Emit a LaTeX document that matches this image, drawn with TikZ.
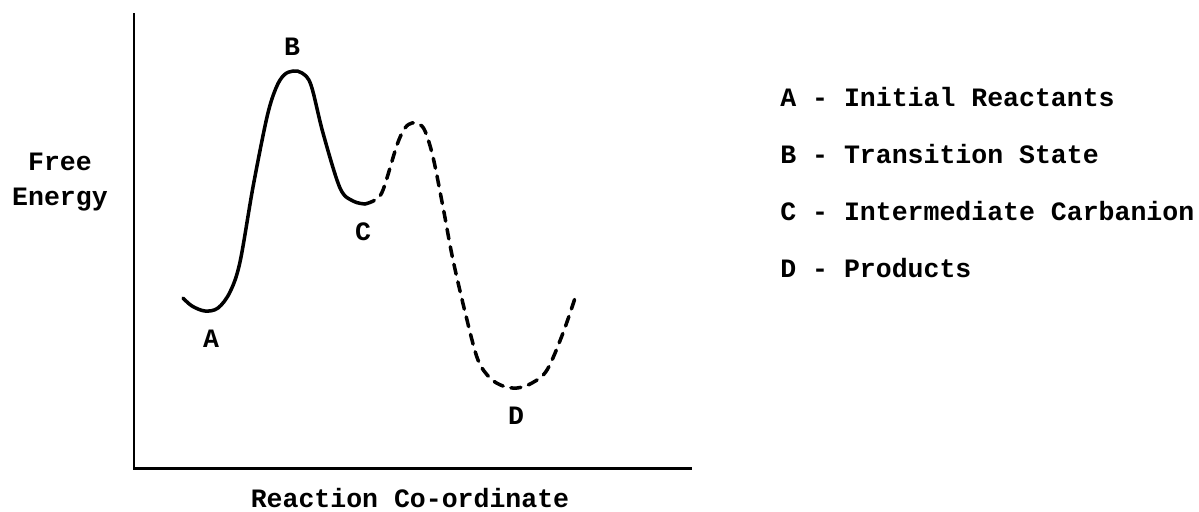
\documentclass[tikz,border=0pt]{standalone}
\usepackage{fontspec}
\setmonofont{Liberation Mono}
\usepackage{tikz}
\usetikzlibrary{positioning,calc}

\begin{document}
\begin{tikzpicture}[
    x=0.02cm, y=-0.02cm,
    lbl/.style={font=\ttfamily\bfseries\fontsize{15.1}{17}\selectfont, inner sep=0pt, anchor=base},
    axis/.style={line width=1.7pt},
    curve/.style={line width=2pt, line cap=round, line join=round},
    dashcurve/.style={curve, dash pattern=on 0.2cm off 0.16cm}
  ]
    \useasboundingbox (0,0) rectangle (1199,511);
    % axes
    \coordinate (origin) at (134,468);
    \coordinate (ytop) at (134,13);
    \coordinate (xend) at (692,468);
    \draw[axis] (ytop) -- (origin) -- (xend);
    % solid part A -> B -> C
    \draw[curve] plot[smooth, tension=0.55] coordinates {
      (183,298) (192,306) (205,311) (218,308) (230,292) (240,262) (253,187)
      (267,117) (276,88) (284,75) (293,71) (302,73) (311,85) (323,133)
      (340,188) (353,201) (365,204)};
    % dashed part C -> D
    \draw[dashcurve] plot[smooth, tension=0.55] coordinates {
      (365,204) (375,200) (383,190) (397,145) (405,128) (412,123) (419,124)
      (425,131) (433,157) (443,207) (453,260) (467,320) (478,360) (490,378)
      (503,386) (517,388) (532,383) (547,370) (563,333) (577,292)};
    % point labels
    \node[lbl] (ptA) at (211,347) {A};
    \node[lbl] (ptB) at (292,55) {B};
    \node[lbl] (ptC) at (363,240) {C};
    \node[lbl] (ptD) at (516,424) {D};
    % axis titles
    \node[lbl] (free) at (60,170) {Free};
    \node[lbl] (energy) at (60,205) {Energy};
    \node[lbl] (xtitle) at (410,507) {Reaction Co-ordinate};
    % legend
    \node[lbl, anchor=base west] (legA) at (780,106) {A - Initial Reactants};
    \node[lbl, anchor=base west] (legB) at (780,163) {B - Transition State};
    \node[lbl, anchor=base west] (legC) at (780,220) {C - Intermediate Carbanion};
    \node[lbl, anchor=base west] (legD) at (780,277) {D - Products};
  \end{tikzpicture}
\end{document}
